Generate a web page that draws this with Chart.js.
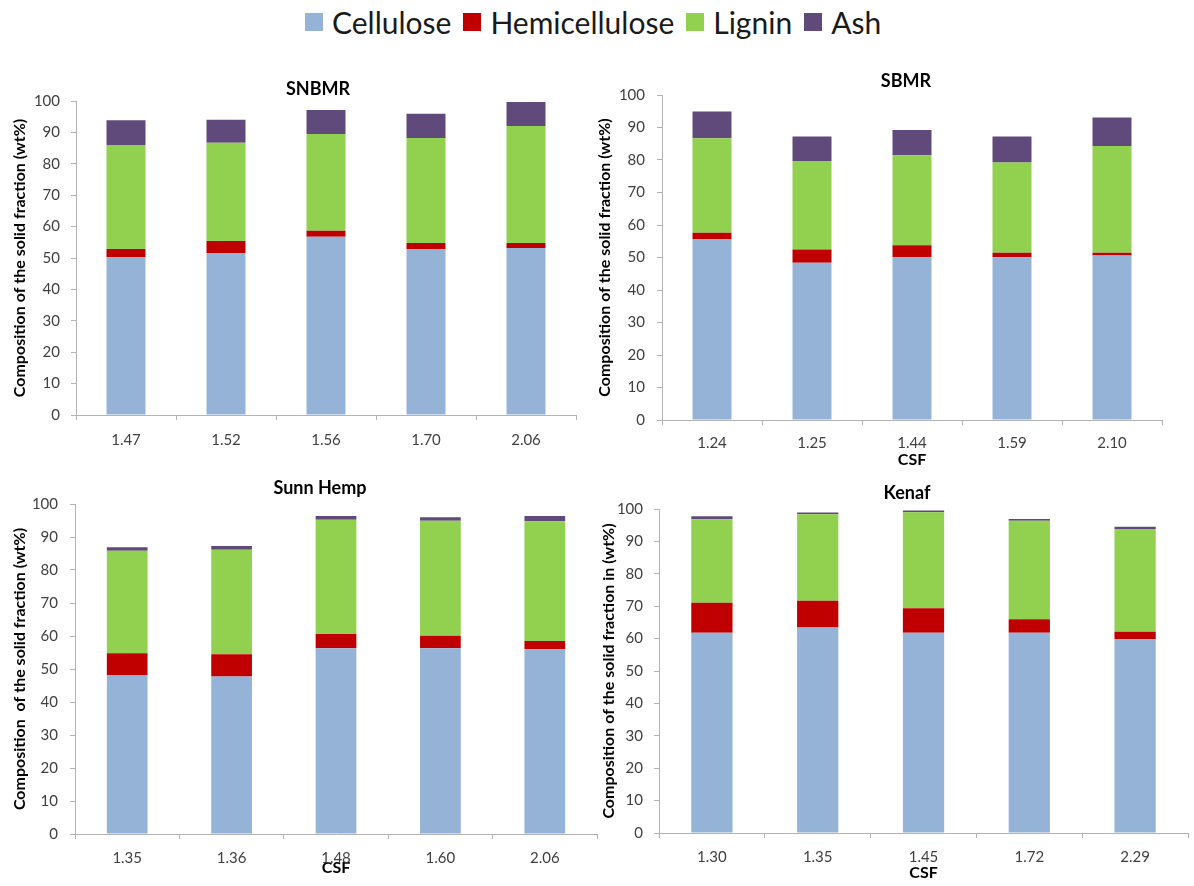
<!DOCTYPE html>
<html><head><meta charset="utf-8">
<script src="https://cdn.jsdelivr.net/npm/chart.js@4.4.1/dist/chart.umd.min.js"></script>
<style>
html,body{margin:0;padding:0;background:#fff;}
body{width:1194px;height:886px;overflow:hidden;position:relative;font-family:Lato,sans-serif;}
canvas{position:absolute;}
.ttl{position:absolute;transform:translate(-50%,-50%);font-weight:bold;font-size:18px;font-family:Lato,sans-serif;color:#000;white-space:nowrap;}
#legend{position:absolute;left:305px;top:3px;height:38px;display:flex;align-items:center;font-family:Lato,sans-serif;font-size:30px;color:#1a1a1a;white-space:nowrap;}
.sw{width:18px;height:18px;display:inline-block;margin-right:9px;}
.item{display:flex;align-items:center;margin-right:12px;}
</style></head>
<body>
<div id="legend"></div>
<canvas id="c1" width="590" height="410" style="left:0px;top:50px;width:590px;height:410px"></canvas>
<canvas id="c2" width="600" height="420" style="left:590px;top:50px;width:600px;height:420px"></canvas>
<canvas id="c3" width="600" height="416" style="left:0px;top:470px;width:600px;height:416px"></canvas>
<canvas id="c4" width="604" height="416" style="left:590px;top:470px;width:604px;height:416px"></canvas>
<div class="ttl" style="left:318px;top:88px">SNBMR</div>
<div class="ttl" style="left:906px;top:80px">SBMR</div>
<div class="ttl" style="left:320px;top:487px">Sunn Hemp</div>
<div class="ttl" style="left:907px;top:492px">Kenaf</div>
<script>
// ---- data ----
const seriesNames = ['Cellulose', 'Hemicellulose', 'Lignin', 'Ash'];
const seriesColors = ['#95B3D7', '#C00000', '#92D050', '#604A7B'];
const yTicks = [0, 10, 20, 30, 40, 50, 60, 70, 80, 90, 100];

const snbmrCSF = ['1.47', '1.52', '1.56', '1.70', '2.06'];
const snbmrCellulose = [50.3, 51.6, 56.8, 52.9, 53.2];
const snbmrHemicellulose = [2.6, 3.8, 1.9, 1.9, 1.6];
const snbmrLignin = [33.1, 31.3, 30.8, 33.4, 37.2];
const snbmrAsh = [7.9, 7.3, 7.6, 7.7, 7.7];

const sbmrCSF = ['1.24', '1.25', '1.44', '1.59', '2.10'];
const sbmrCellulose = [55.7, 48.4, 50.1, 50.1, 50.6];
const sbmrHemicellulose = [1.9, 4.1, 3.7, 1.4, 0.9];
const sbmrLignin = [29.1, 27.2, 27.7, 27.7, 32.8];
const sbmrAsh = [8.2, 7.5, 7.7, 8.0, 8.8];

const sunnCSF = ['1.35', '1.36', '1.48', '1.60', '2.06'];
const sunnCellulose = [48.2, 47.7, 56.3, 56.3, 56.0];
const sunnHemicellulose = [6.6, 6.8, 4.3, 3.8, 2.5];
const sunnLignin = [31.0, 31.6, 34.6, 34.8, 36.3];
const sunnAsh = [1.1, 1.2, 1.2, 1.1, 1.6];

const kenafCSF = ['1.30', '1.35', '1.45', '1.72', '2.29'];
const kenafCellulose = [61.8, 63.4, 61.8, 61.8, 59.8];
const kenafHemicellulose = [9.3, 8.3, 7.6, 4.2, 2.3];
const kenafLignin = [25.7, 26.7, 29.6, 30.4, 31.7];
const kenafAsh = [1.0, 0.5, 0.5, 0.5, 0.7];

// ---- legend ----
const lg = document.getElementById('legend');
seriesNames.forEach((n, i) => {
  const it = document.createElement('div'); it.className = 'item';
  const sw = document.createElement('span'); sw.className = 'sw'; sw.style.background = seriesColors[i];
  const tx = document.createElement('span'); tx.textContent = n;
  it.appendChild(sw); it.appendChild(tx); lg.appendChild(it);
});

Chart.defaults.font.family = 'Lato, sans-serif';
const AXIS = '#b3b3b3';

function makeChart(id, labels, values, lay) {
  const datasets = values.map((v, i) => ({
    label: seriesNames[i], data: v, backgroundColor: seriesColors[i],
    borderWidth: 0, categoryPercentage: 0.39, barPercentage: 1
  }));
  return new Chart(document.getElementById(id), {
    type: 'bar',
    data: { labels: labels, datasets: datasets },
    options: {
      responsive: false, animation: false, devicePixelRatio: 1,
      layout: { padding: { left: 0, right: lay.pr, top: lay.pt, bottom: 0 } },
      plugins: { legend: { display: false }, tooltip: { enabled: false }, title: { display: false } },
      scales: {
        x: {
          stacked: true,
          grid: { offset: true, drawOnChartArea: false, drawTicks: true, tickLength: 5, color: AXIS },
          border: { display: true, color: AXIS, width: 1 },
          ticks: { color: '#404040', font: { size: 15 }, padding: lay.xpad, maxRotation: 0 },
          title: { display: !!lay.xtitle, text: lay.xtitle || '', color: '#000', font: { size: 16, weight: 'bold' }, padding: { top: 0, bottom: lay.xtb || 0 } },
          afterFit: s => { s.height = lay.xh; }
        },
        y: {
          stacked: true, min: 0, max: 100,
          afterBuildTicks: s => { s.ticks = yTicks.map(v => ({ value: v })); },
          grid: { drawOnChartArea: false, drawTicks: true, tickLength: 5, color: AXIS },
          border: { display: true, color: AXIS, width: 1 },
          ticks: { color: '#404040', font: { size: 15 }, padding: lay.ypad },
          title: { display: true, text: lay.ytitle, color: '#000', font: { size: 16, weight: 'bold' }, padding: { top: lay.ytp, bottom: 0 } },
          afterFit: s => { s.width = lay.yw; }
        }
      }
    }
  });
}

makeChart('c1', snbmrCSF, [snbmrCellulose, snbmrHemicellulose, snbmrLignin, snbmrAsh],
  { pr: 14, pt: 51, xh: 45, yw: 76, xpad: 11, ypad: 11, ytp: 10.4, ytitle: 'Composition of the solid fraction (wt%)' });
makeChart('c2', sbmrCSF, [sbmrCellulose, sbmrHemicellulose, sbmrLignin, sbmrAsh],
  { pr: 28, pt: 45, xh: 50, yw: 72, xpad: 9, ypad: 12, ytp: 5.4, xtitle: 'CSF', xtb: 0.4, ytitle: 'Composition of the solid fraction (wt%)' });
makeChart('c3', sunnCSF, [sunnCellulose, sunnHemicellulose, sunnLignin, sunnAsh],
  { pr: 3, pt: 34, xh: 52, yw: 75, xpad: 10, ypad: 12, ytp: 10.4, xtitle: 'CSF', xtb: 8.4, ytitle: 'Composition  of the solid fraction (wt%)' });
makeChart('c4', kenafCSF, [kenafCellulose, kenafHemicellulose, kenafLignin, kenafAsh],
  { pr: 6, pt: 39, xh: 53, yw: 69, xpad: 10, ypad: 11, ytp: 9.4, xtitle: 'CSF', xtb: 3.4, ytitle: 'Composition of the solid fraction in (wt%)' });
</script>
</body></html>
